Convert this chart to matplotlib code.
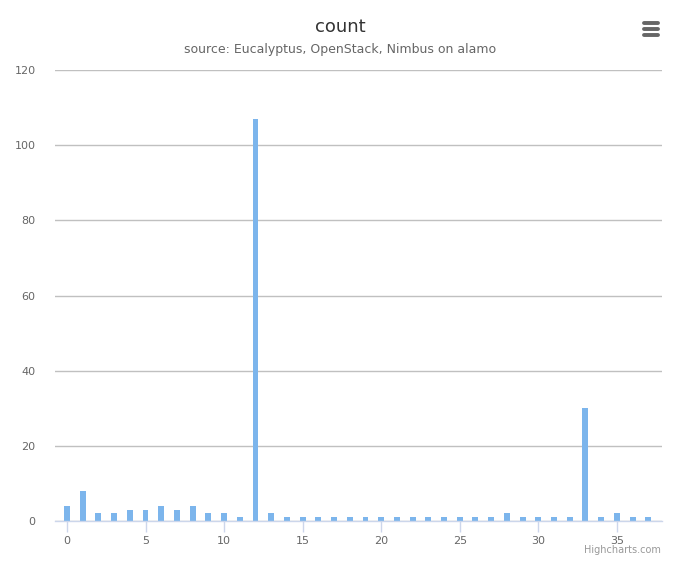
import matplotlib
matplotlib.use("Agg")
import matplotlib.pyplot as plt
from matplotlib.lines import Line2D

categories = list(range(38))
counts = [4, 8, 2, 2, 3, 3, 4, 3, 4, 2, 2, 1, 107, 2, 1, 1, 1, 1, 1, 1,
          1, 1, 1, 1, 1, 1, 1, 1, 2, 1, 1, 1, 1, 30, 1, 2, 1, 1]
yticks = [0, 20, 40, 60, 80, 100, 120]
xticks = [0, 5, 10, 15, 20, 25, 30, 35]

W, H = 680, 566
fig = plt.figure(figsize=(W / 100, H / 100), dpi=100)
plt.rcParams['font.family'] = ['DejaVu Sans']
ax = fig.add_axes([55 / W, 1 - 521 / H, (662 - 55) / W, (521 - 70) / H])

ax.bar(categories, counts, width=0.38, color='#7cb5ec', zorder=3)
ax.set_xlim(-0.76, 37.87)
ax.set_ylim(0, 120)
ax.set_yticks(yticks)
ax.set_xticks(xticks)
ax.yaxis.grid(True, color='#c0c0c0', linewidth=1, zorder=0)
for s in ['top', 'right', 'left']:
    ax.spines[s].set_visible(False)
ax.spines['bottom'].set_color('#ccd6eb')
ax.spines['bottom'].set_linewidth(1)
ax.spines['bottom'].set_zorder(4)
ax.tick_params(axis='y', length=0, pad=14, labelsize=8, labelcolor='#666666')
ax.tick_params(axis='x', length=8, width=1, color='#ccd6eb', pad=3, labelsize=8, labelcolor='#666666')

fig.text(0.5, 1 - 27 / H, 'count', ha='center', va='center', fontsize=13, color='#333333')
fig.text(0.5, 1 - 50 / H, 'source: Eucalyptus, OpenStack, Nimbus on alamo', ha='center', va='center',
         fontsize=9, color='#666666')
fig.text(661 / W, 1 - 550 / H, 'Highcharts.com', ha='right', va='center', fontsize=7, color='#999999')

for yy in [23, 29, 35]:
    fig.add_artist(Line2D([644 / W, 658 / W], [1 - yy / H, 1 - yy / H], color='#666666',
                          linewidth=2.8, solid_capstyle='round', transform=fig.transFigure))

fig.savefig('out.png', dpi=100)
